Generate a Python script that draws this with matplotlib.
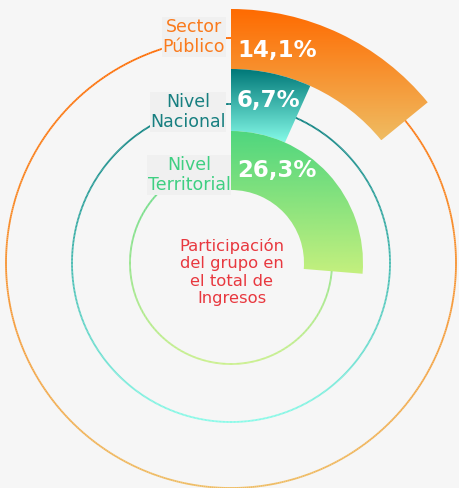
import numpy as np
import matplotlib
matplotlib.use("Agg")
import matplotlib.pyplot as plt
from matplotlib.patches import Wedge
from matplotlib.collections import LineCollection
from matplotlib.colors import LinearSegmentedColormap

# data
labels = ["Sector\nPúblico", "Nivel\nNacional", "Nivel\nTerritorial"]
values = [14.1, 6.7, 26.3]
center_text = "Participación\ndel grupo en\nel total de\nIngresos"

# styling (outer ring first)
grad_top = ["#ff6a00", "#007878", "#4fd67e"]
grad_bot = ["#efbc62", "#86fbe8", "#c4f07e"]
label_colors = ["#fa7a1c", "#177f80", "#3fcf82"]
band_outer = [254, 194, 132]
band_inner = [194, 132, 73]
circle_r = [225, 159, 101]
pct_r = [213, 163, 93]
label_xy = [(194, 451), (188, 376), (189, 313)]

W, H = 460, 488
cx, cy = 231, 225
bg = "#f6f6f6"

fig = plt.figure(figsize=(W / 100, H / 100), dpi=100, facecolor=bg)
ax = fig.add_axes([0, 0, 1, 1])
ax.set_xlim(0, W)
ax.set_ylim(0, H)
ax.set_facecolor(bg)
ax.axis("off")

# full circles, coloured top to bottom
for i in range(3):
    r = circle_r[i]
    cmap = LinearSegmentedColormap.from_list("c%d" % i, [grad_top[i], grad_bot[i]])
    t = np.linspace(0, 2 * np.pi, 721)
    xs = cx + r * np.cos(t)
    ys = cy + r * np.sin(t)
    pts = np.column_stack([xs, ys]).reshape(-1, 1, 2)
    segs = np.concatenate([pts[:-1], pts[1:]], axis=1)
    frac = (cy + r - (ys[:-1] + ys[1:]) / 2) / (2 * r)
    lc = LineCollection(segs, colors=cmap(frac), linewidths=1.3, zorder=1)
    ax.add_collection(lc)

# gradient wedges, clockwise from 12 o'clock
for i, v in enumerate(values):
    ang = v * 3.6
    w = Wedge((cx, cy), band_outer[i], 90 - ang, 90,
              width=band_outer[i] - band_inner[i],
              facecolor="none", edgecolor="none", zorder=3)
    ax.add_patch(w)
    cmap = LinearSegmentedColormap.from_list("w%d" % i, [grad_bot[i], grad_top[i]])
    ext = w.get_path().get_extents()
    grad = np.linspace(0, 1, 256).reshape(-1, 1)
    im = ax.imshow(grad, cmap=cmap, origin="lower", aspect="auto",
                   extent=[ext.x0, ext.x1, ext.y0, ext.y1], zorder=3,
                   interpolation="bilinear")
    im.set_clip_path(w)
    ax.text(cx + 6, cy + pct_r[i], ("%.1f%%" % v).replace(".", ","),
            color="white", fontsize=16.5, fontweight="bold",
            ha="left", va="center", zorder=5)

# ring labels
for i, lab in enumerate(labels):
    ax.text(label_xy[i][0], label_xy[i][1], lab, color=label_colors[i],
            fontsize=12.5, ha="center", va="center", multialignment="center",
            linespacing=1.15, zorder=4,
            bbox=dict(facecolor="#f0f0f0", edgecolor="none", pad=0.5))

ax.text(232, H - 272, center_text, color="#e8383f", fontsize=11.8,
        ha="center", va="center", multialignment="center",
        linespacing=1.22, zorder=4)

ax.set_xlim(0, W)
ax.set_ylim(0, H)
fig.savefig("out.png", dpi=100, facecolor=bg)
